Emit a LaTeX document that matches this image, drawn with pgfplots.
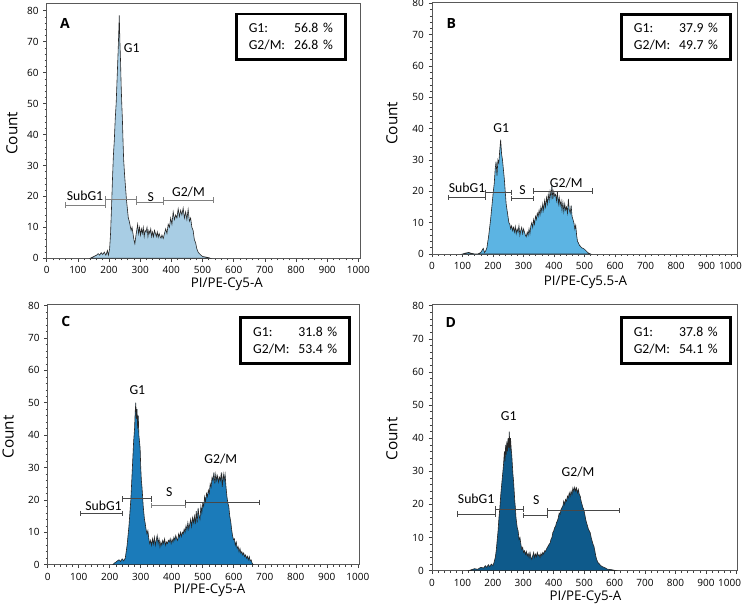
\documentclass[border=0pt]{standalone}
\usepackage{fontspec}
\setmainfont{Open Sans}
\newfontfamily\annfont{Carlito}
\usepackage{pgfplots}
\pgfplotsset{compat=1.18}
\usepackage{pgfplotstable}

\definecolor{fillA}{HTML}{A8CDE4}
\definecolor{fillB}{HTML}{5CB4E3}
\definecolor{fillC}{HTML}{1B7BBA}
\definecolor{fillD}{HTML}{0E5A8B}
\definecolor{gateA}{HTML}{808080}
\definecolor{gateB}{HTML}{484848}

\pgfplotstableread{
x y
140 0
150 0.5
160 1
165 1.5
170 1
175 1.8
180 1.2
185 2
190 1
195 2.5
198 1
202 3
205 8
208 16
211 25
214 33
217 38
220 45
223 50
226 58
229 66
231 72
233 78.5
235 70
237 64
239 56
241 50
243 45
245 38
247 32
250 27
253 23
256 19
259 16
262 13
265 12
268 10.5
271 9
274 10
277 8
280 6
283 4.7
286 7
289 9
292 11
295 8
298 10
301 7.5
304 9.5
307 8
310 10
313 7
316 9
319 8.5
322 10
325 7
328 9
331 8
334 9.5
337 7
340 8.5
343 7
346 9
349 8
352 7
355 8.5
358 6.8
361 8
364 7
367 6.5
370 7.5
374 6.4
378 8
382 9.5
386 8
390 11
394 10
398 13
402 11
406 15
410 12.5
414 14
418 13
422 16
426 13.5
430 15.5
434 14
438 16.2
442 13
446 15
450 12.5
454 15.8
458 12
462 13
466 10
470 9
474 6
478 5
482 3
486 2
490 1.5
495 1
500 0.6
510 0.4
520 0.2
525 0
}\dataA

\pgfplotstableread{
x y
100 0
110 0.3
120 0.5
130 0.2
140 0
150 0
160 0.5
168 1.8
172 0.5
176 1
180 2
183 4
186 6
189 8.5
192 11
195 14
198 17
201 20
204 22.5
207 27
210 29.5
213 25
216 30
219 29
222 33
225 36.5
228 32
231 30
234 27
237 24
240 20
243 16
246 14
249 12
252 10
255 9.5
258 8
261 9
264 7.5
267 8.5
270 7
273 8.8
276 6.5
279 8
282 7
285 9
288 6
291 7.5
294 8.5
297 6.5
300 8
303 7
306 6
309 5.5
312 7
315 6
318 8
321 6.5
324 9
327 10
330 8.5
333 11
336 9.5
339 12
342 11
345 13
348 12
351 14
354 12.5
357 15
360 13.5
363 16
366 14
369 17
372 15
375 18
378 16
381 19
384 17
387 20
390 18
393 22
396 17.5
399 20
402 18.5
405 19
408 17
411 20
414 16
417 18
420 15.5
423 17
426 14
429 16.5
432 13.5
435 16
438 14
441 15
444 13
447 17.6
450 14
453 13
456 15.5
459 12
462 11
465 10
468 8
471 9.2
474 6
477 4
480 3.5
483 2.8
486 2.5
490 2
495 1.8
500 1.5
505 1
510 0.5
515 0.2
520 0
}\dataB

\pgfplotstableread{
x y
210 0
215 0.5
220 0.8
225 1.2
230 1.5
235 1
240 1.8
245 1.2
250 2
253 4
256 6
259 9
262 12
265 16
268 20
271 26
274 32
277 38
280 42
282 47
284 50
286 45
288 48
290 42
292 46
294 40
296 38
298 36
300 30
302 26
304 24
306 21
308 18
310 16
312 14
314 13
317 11
320 9.5
323 10.5
326 8
329 6.5
332 7.5
335 6
338 8
341 6.4
344 8.5
347 6
350 7.5
353 9
356 6.5
359 8
362 5.5
365 7
368 6
371 7.5
374 6.5
377 8
380 6
383 7
386 6.5
389 7.5
392 7
395 8
398 6.5
401 7.8
404 7
407 8.5
410 7.5
413 9
416 8
419 7.5
422 9.5
425 8.5
428 10
431 8.7
434 10
437 9.5
440 11
443 10
446 12
449 10.8
452 13
455 11
458 12.5
461 14
464 11.8
467 14.5
470 13
473 15
476 12.5
479 16.5
482 13
485 17.5
488 15
491 14
494 18
497 16
500 19
503 18
506 21
509 19.5
512 22
515 21
518 23
521 22
524 25
527 24
530 27
533 26
536 28.5
539 25
542 28
545 26
548 27.5
551 25.5
554 27
557 26
560 28.5
563 24
566 28
569 26
572 28
575 24
578 21
581 19
584 18
587 15
590 13.5
593 11
596 9
599 7.7
602 8
605 6
608 7
611 5
614 5.6
617 4
620 5
623 3.5
626 4
629 3
632 3.6
635 2.5
638 3
641 2
644 2.6
647 1.5
650 2.5
653 1.2
656 1.5
659 0.5
663 0
}\dataC

\pgfplotstableread{
x y
120 0
130 0.3
140 0.6
150 0.4
160 1
170 0.8
175 1.5
180 1
185 1.8
190 1.2
195 2
200 1.5
204 2.5
208 4
211 6
214 9
217 12
220 16
223 19
226 23
229 26
232 29
235 32
238 36
240 33
242 38
244 35
246 39
248 36
250 40
252 37
254 42
256 36
258 40
260 37
262 35
264 32
266 29
268 27
270 24
272 21
274 19
276 16
278 14.5
280 13
283 12
286 9.4
289 10
292 8
295 6.4
298 7
301 5.5
304 6
307 4.9
310 5.8
313 4.5
316 5.2
319 4
322 5.5
325 4
328 3.4
331 4.5
334 5.5
337 4
340 5
343 4.2
346 5.5
349 4.5
352 4.8
355 4
358 5.2
361 4.5
364 5.5
367 5
370 6
373 5.8
376 6.5
379 7
382 7.5
385 8
388 8.3
391 9.5
394 10
397 11.5
400 12
403 13
406 13.4
409 14.5
412 15
415 16
418 17.4
421 17
424 18.5
427 19
430 19.5
433 21
436 20
439 21.5
442 21
445 22.5
448 22
451 23.5
454 22.5
457 24
460 23
463 25
466 24
469 25.2
472 24
475 25
478 23.5
481 24.5
484 23
487 22.5
490 21
493 20
496 19
499 18.4
502 17
505 15.5
508 14.4
511 13.5
514 12.5
517 12
520 11.4
523 10
526 9
529 8
532 7.4
535 6
538 4.5
541 3.4
545 2.5
550 2
555 1.5
560 1.2
565 1
570 0.8
575 0.5
580 0.4
590 0.3
600 0.1
605 0
}\dataD

\pgfplotsset{
 flow/.style={
  scale only axis, xmin=0, ymin=0,
  xtick={0,100,...,1000}, ytick={0,10,...,80},
  minor x tick num=4, minor y tick num=4,
  tick align=outside, xtick pos=bottom, ytick pos=left,
  major tick length=2.6pt, minor tick length=1.6pt,
  axis line style={black!65, line width=0.5pt},
  tick style={black!75, line width=0.4pt},
  every tick label/.append style={font=\fontsize{7.5}{8.5}\selectfont},
  /pgf/number format/assume math mode=true,
  /pgf/number format/1000 sep={},
  xlabel style={anchor=center, font=\fontsize{10}{12}\selectfont},
  ylabel style={anchor=center, font=\fontsize{11.5}{13}\selectfont},
 },
 rightpanel/.style={
  xticklabels={0,100,200,300,400,500,600,700,800,900,{\hspace*{-10pt}1000}},
 },
 hist/.style={draw=black!85, line width=0.45pt, fill=#1},
 gate/.style={draw=#1, line width=0.7pt, mark=|, mark size=2pt, mark options={solid, line width=0.7pt}},
}
\tikzset{
 ann/.style={font=\annfont\fontsize{10.3}{12}\selectfont},
 box/.style={draw=black, line width=2.2pt, fill=white, minimum width=82pt, minimum height=34pt,
   text width=63pt, inner sep=0pt, align=left, font=\annfont\fontsize{10.3}{12.5}\selectfont},
 letter/.style={font=\bfseries\fontsize{10.5}{12}\selectfont},
}

\begin{document}
\begin{tikzpicture}
\useasboundingbox (0,0) rectangle (557.25pt,456pt);

% Panel A
\begin{axis}[flow, at={(35.0pt,262.3pt)}, anchor=south west,
  width=235pt, height=191.25pt, xmax=1005.5, ymax=82.4,
  xlabel={PI/PE-Cy5-A}, ylabel={Count},
  xlabel style={at={(axis description cs:0.575,-0.101)}},
  ylabel style={at={(axis description cs:-0.111,0.49)}}]
\addplot[hist=fillA] table {\dataA} \closedcycle;
\addplot[gate=gateA] coordinates {(61,17.2) (190,17.2)};
\addplot[gate=gateA] coordinates {(190,19.1) (287,19.1)};
\addplot[gate=gateA] coordinates {(289,18.1) (374,18.1)};
\addplot[gate=gateA] coordinates {(374,18.8) (535,18.8)};
\node[letter] at (axis cs:59,75.9) {A};
\node[ann] at (axis cs:273,67.8) {G1};
\node[ann] at (axis cs:123,20.1) {SubG1};
\node[ann] at (axis cs:334,19.9) {S};
\node[ann] at (axis cs:455,21.5) {G2/M};
\node[box] at (axis cs:783.5,71.6) {G1:\hfill 56.8 \%\\G2/M:\hfill 26.8 \%};
\end{axis}

% Panel B
\begin{axis}[flow, rightpanel, at={(324pt,265.5pt)}, anchor=south west,
  width=229.3pt, height=188.5pt, xmax=1002, ymax=80.2,
  xlabel={PI/PE-Cy5.5-A}, ylabel={Count},
  xlabel style={at={(axis description cs:0.502,-0.114)}},
  ylabel style={at={(axis description cs:-0.131,0.52)}}]
\addplot[hist=fillB] table {\dataB} \closedcycle;
\addplot[gate=gateB] coordinates {(55,18) (175,18)};
\addplot[gate=gateB] coordinates {(175,19.7) (262,19.7)};
\addplot[gate=gateB] coordinates {(262,17.8) (331,17.8)};
\addplot[gate=gateB] coordinates {(331,20.1) (525,20.1)};
\node[letter] at (axis cs:63,73.6) {B};
\node[ann] at (axis cs:227,40.1) {G1};
\node[ann] at (axis cs:115,21) {SubG1};
\node[ann] at (axis cs:297,20.4) {S};
\node[ann] at (axis cs:440,22.8) {G2/M};
\node[box] at (axis cs:799.5,69.3) {G1:\hfill 37.9 \%\\G2/M:\hfill 49.7 \%};
\end{axis}

% Panel C
\begin{axis}[flow, at={(35.8pt,32.5pt)}, anchor=south west,
  width=233.7pt, height=195.5pt, xmax=1005, ymax=80.5,
  xlabel={PI/PE-Cy5-A}, ylabel={Count},
  xlabel style={at={(axis description cs:0.519,-0.1)}},
  ylabel style={at={(axis description cs:-0.127,0.49)}}]
\addplot[hist=fillC] table {\dataC} \closedcycle;
\addplot[gate=gateB] coordinates {(106,15.9) (242,15.9)};
\addplot[gate=gateB] coordinates {(242,20.3) (335,20.3)};
\addplot[gate=gateA] coordinates {(335,18.2) (444,18.2)};
\addplot[gate=gateB] coordinates {(444,19.3) (683,19.3)};
\node[letter] at (axis cs:58,75.2) {C};
\node[ann] at (axis cs:289,53.8) {G1};
\node[ann] at (axis cs:180,18.2) {SubG1};
\node[ann] at (axis cs:392,22.3) {S};
\node[ann] at (axis cs:558,32.6) {G2/M};
\node[box] at (axis cs:798,69.2) {G1:\hfill 31.8 \%\\G2/M:\hfill 53.4 \%};
\end{axis}

% Panel D
\begin{axis}[flow, rightpanel, at={(324pt,28pt)}, anchor=south west,
  width=229.3pt, height=200pt, xmax=1004.6, ymax=80.5,
  xlabel={PI/PE-Cy5-A}, ylabel={Count},
  xlabel style={at={(axis description cs:0.502,-0.1)}},
  ylabel style={at={(axis description cs:-0.131,0.494)}}]
\addplot[hist=fillD] table {\dataD} \closedcycle;
\addplot[gate=gateB] coordinates {(85,17.1) (208,17.1)};
\addplot[gate=gateB] coordinates {(208,18.6) (301,18.6)};
\addplot[gate=gateB] coordinates {(301,16.6) (378,16.6)};
\addplot[gate=gateB] coordinates {(378,18.1) (616,18.1)};
\node[letter] at (axis cs:62,75) {D};
\node[ann] at (axis cs:252,46.8) {G1};
\node[ann] at (axis cs:145,21.6) {SubG1};
\node[ann] at (axis cs:343,21.3) {S};
\node[ann] at (axis cs:480,29.9) {G2/M};
\node[box] at (axis cs:801,69.45) {G1:\hfill 37.8 \%\\G2/M:\hfill 54.1 \%};
\end{axis}
\end{tikzpicture}
\end{document}
